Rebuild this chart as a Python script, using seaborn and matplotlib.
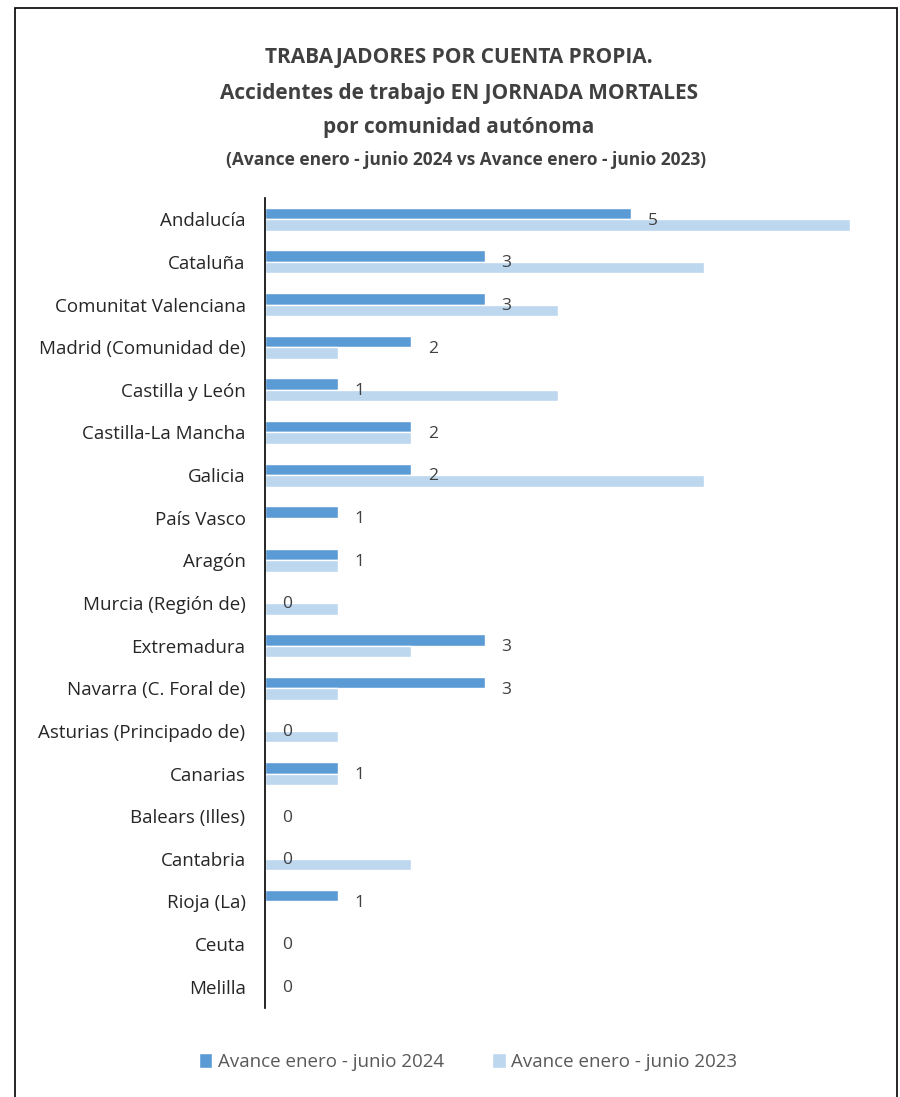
import pandas as pd
import matplotlib.pyplot as plt
import seaborn as sns
from matplotlib.patches import Rectangle

regiones = ["Andalucía", "Cataluña", "Comunitat Valenciana", "Madrid (Comunidad de)",
            "Castilla y León", "Castilla-La Mancha", "Galicia", "País Vasco", "Aragón",
            "Murcia (Región de)", "Extremadura", "Navarra (C. Foral de)",
            "Asturias (Principado de)", "Canarias", "Balears (Illes)", "Cantabria",
            "Rioja (La)", "Ceuta", "Melilla"]
avance_2024 = [5, 3, 3, 2, 1, 2, 2, 1, 1, 0, 3, 3, 0, 1, 0, 0, 1, 0, 0]
avance_2023 = [8, 6, 4, 1, 4, 2, 6, 0, 1, 1, 2, 1, 1, 1, 0, 2, 0, 0, 0]
series = ["Avance enero - junio 2024", "Avance enero - junio 2023"]
colores = ["#5B9BD5", "#BDD7EE"]
titulo = ["TRABAJADORES POR CUENTA PROPIA.",
          "Accidentes de trabajo EN JORNADA MORTALES",
          "por comunidad autónoma"]
subtitulo = "(Avance enero - junio 2024 vs Avance enero - junio 2023)"

data = pd.DataFrame({
    "region": regiones * 2,
    "valor": avance_2024 + avance_2023,
    "serie": [series[0]] * len(regiones) + [series[1]] * len(regiones),
})

sns.set_style("white")
plt.rcParams['font.family'] = ['Open Sans', 'DejaVu Sans']

fig = plt.figure(figsize=(9, 10.97), dpi=100)
ax = fig.add_axes([265 / 900, 1 - 1008 / 1097, 600 / 900, 810 / 1097])

sns.barplot(data=data, x="valor", y="region", hue="serie", hue_order=series,
            palette=colores, orient="h", width=0.54, gap=0, saturation=1,
            dodge=True, ax=ax, legend=True)

# labels only for 2024
for i, v in enumerate(avance_2024):
    ax.annotate(str(v), (v, i), xytext=(12, -1), textcoords="offset points",
                va="center", ha="left", fontsize=12.5, color="#404040")

ax.set_xlim(0, 8.2)
ax.set_xlabel("")
ax.set_ylabel("")
ax.set_xticks([])
ax.tick_params(axis="y", length=0, pad=14, labelsize=13.5, labelcolor="#262626")
for s in ["top", "right", "bottom"]:
    ax.spines[s].set_visible(False)
ax.spines["left"].set_color("#000000")
ax.spines["left"].set_linewidth(1.2)

handles, labels = ax.get_legend_handles_labels()
ax.legend(handles, labels, loc="center", bbox_to_anchor=(468 / 900, 1 - 1062 / 1097),
          bbox_transform=fig.transFigure, ncol=2, frameon=False, fontsize=13.5,
          labelcolor="#595959", handlelength=0.7, handleheight=0.9,
          handletextpad=0.3, columnspacing=2.6)

y_lineas = [58, 93, 127]
for texto, y in zip(titulo, y_lineas):
    fig.text(0.51, 1 - y / 1097, texto, ha="center", va="center", fontsize=15,
             fontweight="bold", color="#404040")
fig.text(0.518, 1 - 160 / 1097, subtitulo, ha="center", va="center", fontsize=12.5,
         fontweight="bold", color="#404040")

fig.patches.append(Rectangle((15 / 900, -0.01), 882 / 900, 1 - 8 / 1097 + 0.01,
                             transform=fig.transFigure, fill=False,
                             edgecolor="#000000", linewidth=1.2))

fig.savefig("out.png", dpi=100)
